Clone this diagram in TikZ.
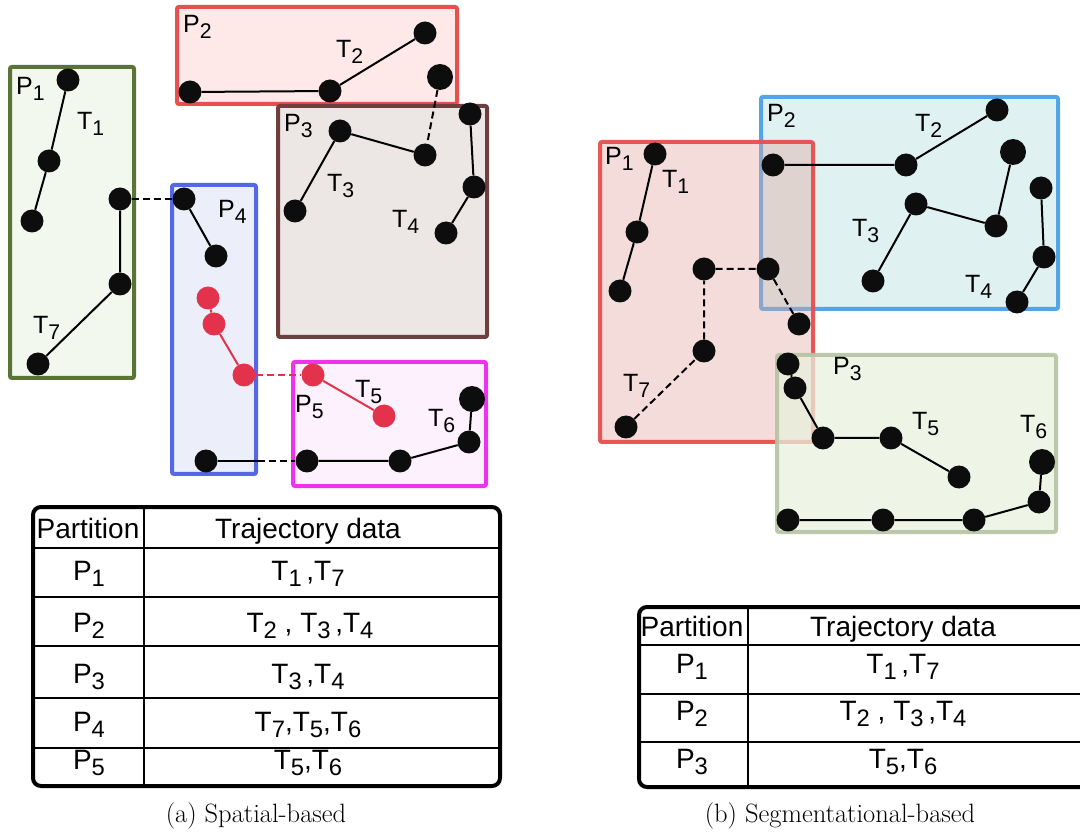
\documentclass[tikz,border=0pt]{standalone}
\usepackage{fontspec}
\usepackage{graphicx}
\newfontfamily\diafont{Liberation Sans}
\newcommand{\lowsub}[1]{\raisebox{-0.22em}{\scalebox{0.85}{#1}}}
\definecolor{dotc}{HTML}{0D0D0D}
\definecolor{reddot}{HTML}{E3334C}
\definecolor{aonedraw}{HTML}{5A7337}\definecolor{aonefill}{HTML}{F3F8EE}
\definecolor{atwodraw}{HTML}{E8504F}\definecolor{atwofill}{HTML}{FEE8E8}
\definecolor{athreedraw}{HTML}{6E3F3F}\definecolor{athreefill}{HTML}{ECE7E5}
\definecolor{afourdraw}{HTML}{5468E6}\definecolor{afourfill}{HTML}{ECEFFA}
\definecolor{afivedraw}{HTML}{EE33EE}\definecolor{afivefill}{HTML}{FCF1FC}
\definecolor{bonedraw}{HTML}{E84E4E}\definecolor{bonefill}{HTML}{E0A8A0}
\definecolor{btwodraw}{HTML}{52A5E6}\definecolor{btwofill}{HTML}{DFF1F1}
\definecolor{bthreedraw}{HTML}{B5C3A2}\definecolor{bthreefill}{HTML}{E8F0DE}
\begin{document}
\begin{tikzpicture}[x=1pt,y=-1pt,
  dot/.style={circle,fill=dotc,inner sep=0pt,minimum size=23pt},
  rdot/.style={dot,fill=reddot},
  part/.style={rectangle,rounded corners=2pt,line width=4pt,inner sep=0pt},
  lab/.style={font=\diafont\fontsize{25}{25}\selectfont,inner sep=0pt,anchor=base west},
  traj/.style={line width=2pt,draw=black},
  rtraj/.style={line width=2pt,draw=reddot},
  link/.style={line width=2pt,dash pattern=on 7pt off 4pt},
  cell/.style={font=\diafont\fontsize{28}{28}\selectfont,inner sep=0pt,anchor=base},
  caption/.style={font=\fontsize{26.5}{30}\selectfont,inner sep=0pt,anchor=base},
  tabouter/.style={line width=4pt,rounded corners=8pt},
  tabrule/.style={line width=2.5pt},
]
\clip (0,0) rectangle (1080,834);

% ---------------- (a) spatial partitions ----------------
\node[part,draw=aonedraw,fill=aonefill,minimum width=124pt,minimum height=311pt] (pa1) at (72,222.5) {};
\node[part,draw=atwodraw,fill=atwofill,minimum width=280pt,minimum height=97pt] (pa2) at (317,55.5) {};
\node[part,draw=athreedraw,fill=athreefill,minimum width=209pt,minimum height=231pt] (pa3) at (382.5,221.5) {};
\node[part,draw=afourdraw,fill=afourfill,minimum width=84pt,minimum height=289pt] (pa4) at (214,329.5) {};
\node[part,draw=afivedraw,fill=afivefill,minimum width=193pt,minimum height=124pt] (pa5) at (389.5,424) {};

\node[lab] (la1) at (16,95) {P\lowsub{1}};
\node[lab] (la2) at (183,33) {P\lowsub{2}};
\node[lab] (la3) at (284,132) {P\lowsub{3}};
\node[lab] (la4) at (218,218) {P\lowsub{4}};
\node[lab] (la5) at (295,413) {P\lowsub{5}};
\node[lab] (lta1) at (77,130) {T\lowsub{1}};
\node[lab] (lta2) at (336,58) {T\lowsub{2}};
\node[lab] (lta3) at (327,192) {T\lowsub{3}};
\node[lab] (lta4) at (392,228) {T\lowsub{4}};
\node[lab] (lta5) at (355,398) {T\lowsub{5}};
\node[lab] (lta6) at (428,427) {T\lowsub{6}};
\node[lab] (lta7) at (33,334) {T\lowsub{7}};

% trajectory points
\node[dot] (a11) at (68,80) {};
\node[dot] (a12) at (49,161) {};
\node[dot] (a13) at (32,221) {};
\node[dot] (a71) at (120,199) {};
\node[dot] (a72) at (120,284) {};
\node[dot] (a73) at (38,364) {};
\node[dot] (a74) at (184,199) {};
\node[dot] (a75) at (216,256) {};
\node[dot] (a21) at (190,92) {};
\node[dot] (a22) at (330,91) {};
\node[dot] (a23) at (425,33) {};
\node[dot,minimum width=26pt] (a31) at (440,77) {};
\node[dot] (a32) at (425,155) {};
\node[dot] (a33) at (340,131) {};
\node[dot] (a34) at (295,211) {};
\node[dot] (a41) at (470,114) {};
\node[dot] (a42) at (474,187) {};
\node[dot] (a43) at (446,233) {};
\node[rdot] (a51) at (208,298) {};
\node[rdot] (a52) at (214,324) {};
\node[rdot] (a53) at (244,375) {};
\node[rdot] (a54) at (313,375) {};
\node[rdot] (a55) at (384,416) {};
\node[dot] (a61) at (206,461) {};
\node[dot] (a62) at (307,461) {};
\node[dot] (a63) at (400,461) {};
\node[dot] (a64) at (469,442) {};
\node[dot,minimum width=26pt] (a65) at (472,399) {};

% trajectory segments
\draw[traj] (a11) -- (a12) -- (a13);
\draw[traj] (a73) -- (a72) -- (a71);
\draw[traj,link] (a71) -- (a74);
\draw[traj] (a74) -- (a75);
\draw[traj] (a21) -- (a22) -- (a23);
\draw[traj,link] (a31) -- (a32);
\draw[traj] (a32) -- (a33) -- (a34);
\draw[traj] (a41) -- (a42) -- (a43);
\draw[rtraj] (a51) -- (a52) -- (a53);
\draw[rtraj,link] (a53) -- (a54);
\draw[rtraj] (a54) -- (a55);
\draw[traj] (a61) -- (a61 -| pa4.east);
\draw[traj,link] (a61 -| pa4.east) -- (a62);
\draw[traj] (a62) -- (a63) -- (a64) -- (a65);

% table (a)
\draw[tabouter] (33,507) rectangle (500,786);
\draw[tabrule] (33,548) -- (500,548);
\draw[tabrule] (33,597) -- (500,597);
\draw[tabrule] (33,646) -- (500,646);
\draw[tabrule] (33,698) -- (500,698);
\draw[tabrule] (33,748) -- (500,748);
\draw[tabrule] (144,507) -- (144,786);
\node[cell] (ta0a) at (88,538) {Partition};
\node[cell] (ta0b) at (308,538) {Trajectory data};
\node[cell] (ta1a) at (89,580) {P\lowsub{1}};
\node[cell] (ta1b) at (308,580) {T\lowsub{1}\,,T\lowsub{7}};
\node[cell] (ta2a) at (89,632) {P\lowsub{2}};
\node[cell] (ta2b) at (310,632) {T\lowsub{2} , T\lowsub{3}\,,T\lowsub{4}};
\node[cell] (ta3a) at (89,683) {P\lowsub{3}};
\node[cell] (ta3b) at (308,683) {T\lowsub{3}\,,T\lowsub{4}};
\node[cell] (ta4a) at (89,731) {P\lowsub{4}};
\node[cell] (ta4b) at (308,731) {T\lowsub{7},T\lowsub{5},T\lowsub{6}};
\node[cell] (ta5a) at (89,769) {P\lowsub{5}};
\node[cell] (ta5b) at (308,769) {T\lowsub{5},T\lowsub{6}};

\node[caption] (capa) at (256,822) {(a) Spatial-based};

% ---------------- (b) segment partitions ----------------
\node[part,draw=btwodraw,fill=btwofill,minimum width=297pt,minimum height=212pt] (pb2) at (909.5,203) {};
\node[part,draw=bonedraw,draw opacity=0.95,fill=bonefill,fill opacity=0.4,minimum width=213pt,minimum height=300pt] (pb1) at (706.5,292) {};
\node[part,draw=bthreedraw,draw opacity=0.9,fill=bthreefill,fill opacity=0.75,minimum width=279pt,minimum height=177pt] (pb3) at (916.5,443.5) {};

\node[lab] (lb1) at (605,165) {P\lowsub{1}};
\node[lab] (lb2) at (767,122) {P\lowsub{2}};
\node[lab] (lb3) at (833,375) {P\lowsub{3}};
\node[lab] (ltb1) at (662,188) {T\lowsub{1}};
\node[lab] (ltb2) at (915,132) {T\lowsub{2}};
\node[lab] (ltb3) at (852,237) {T\lowsub{3}};
\node[lab] (ltb4) at (965,293) {T\lowsub{4}};
\node[lab] (ltb5) at (912,430) {T\lowsub{5}};
\node[lab] (ltb6) at (1020,433) {T\lowsub{6}};
\node[lab] (ltb7) at (623,392) {T\lowsub{7}};

\node[dot] (b11) at (655,154) {};
\node[dot] (b12) at (637,232) {};
\node[dot] (b13) at (620,291) {};
\node[dot] (b71) at (626,427) {};
\node[dot] (b72) at (704,351) {};
\node[dot] (b73) at (704,269) {};
\node[dot] (b74) at (768,269) {};
\node[dot] (b75) at (799,324) {};
\node[dot] (b21) at (773,165) {};
\node[dot] (b22) at (906,165) {};
\node[dot] (b23) at (997,110) {};
\node[dot] (b31) at (873,281) {};
\node[dot] (b32) at (916,204) {};
\node[dot] (b33) at (996,226) {};
\node[dot,minimum width=26pt] (b34) at (1013,152) {};
\node[dot] (b41) at (1041,188) {};
\node[dot] (b42) at (1044,257) {};
\node[dot] (b43) at (1017,302) {};
\node[dot] (b51) at (788,364) {};
\node[dot] (b52) at (795,388) {};
\node[dot] (b53) at (823,438) {};
\node[dot] (b54) at (891,438) {};
\node[dot] (b55) at (959,477) {};
\node[dot] (b61) at (788,520) {};
\node[dot] (b62) at (883,520) {};
\node[dot] (b63) at (974,520) {};
\node[dot] (b64) at (1039,502) {};
\node[dot,minimum width=26pt] (b65) at (1042,462) {};

\draw[traj] (b11) -- (b12) -- (b13);
\draw[traj,link] (b71) -- (b72) -- (b73) -- (b74) -- (b75);
\draw[traj] (b21) -- (b22) -- (b23);
\draw[traj] (b31) -- (b32) -- (b33) -- (b34);
\draw[traj] (b41) -- (b42) -- (b43);
\draw[traj] (b51) -- (b52) -- (b53) -- (b54) -- (b55);
\draw[traj] (b61) -- (b62) -- (b63) -- (b64) -- (b65);

% table (b)
\draw[tabouter] (639,607) rectangle (1100,787);
\draw[tabrule] (639,645) -- (1100,645);
\draw[tabrule] (639,694) -- (1100,694);
\draw[tabrule] (639,742) -- (1100,742);
\draw[tabrule] (748,607) -- (748,787);
\node[cell] (tb0a) at (692,636) {Partition};
\node[cell] (tb0b) at (903,636) {Trajectory data};
\node[cell] (tb1a) at (692,673) {P\lowsub{1}};
\node[cell] (tb1b) at (903,673) {T\lowsub{1}\,,T\lowsub{7}};
\node[cell] (tb2a) at (692,720) {P\lowsub{2}};
\node[cell] (tb2b) at (903,720) {T\lowsub{2} , T\lowsub{3}\,,T\lowsub{4}};
\node[cell] (tb3a) at (692,768) {P\lowsub{3}};
\node[cell] (tb3b) at (903,768) {T\lowsub{5},T\lowsub{6}};

\node[caption] (capb) at (840,822) {(b) Segmentational-based};
\end{tikzpicture}
\end{document}
